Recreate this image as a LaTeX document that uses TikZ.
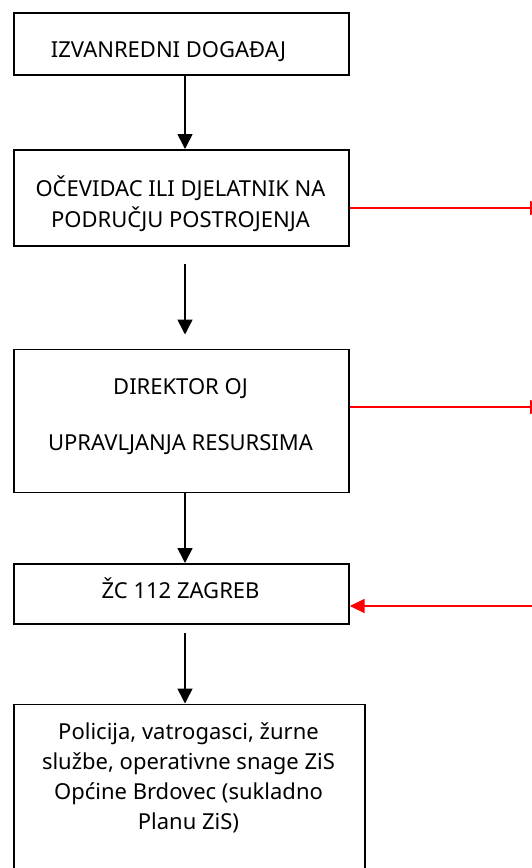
\documentclass[tikz,border=0pt]{standalone}
\usepackage{fontspec}
\setmainfont{Noto Sans}
\usetikzlibrary{arrows.meta,calc}
\begin{document}
\begin{tikzpicture}[x=1pt,y=-1pt,
  box/.style={draw, line width=1.7pt, inner sep=0pt, anchor=north west, rectangle},
  txt/.style={anchor=base, inner sep=0pt, font=\fontsize{22pt}{26pt}\selectfont},
  flow/.style={line width=1.6pt, -{Triangle[width=15pt,length=15pt]}},
  redflow/.style={color=red, line width=1.8pt, -{Triangle[width=14pt,length=15pt]}}]
\useasboundingbox (0,0) rectangle (532,868);
\clip (0,0) rectangle (532,868);
% boxes
\node[box, minimum width=335pt, minimum height=62pt] (b1) at (13,12) {};
\node[box, minimum width=335pt, minimum height=96pt] (b2) at (13,149) {};
\node[box, minimum width=335pt, minimum height=143pt] (b3) at (13,348.5) {};
\node[box, minimum width=335pt, minimum height=60pt] (b4) at (13,563) {};
\node[box, minimum width=351pt, minimum height=200pt] (b5) at (13,703.5) {};
% texts
\node[txt, anchor=base west] (t1) at (50.7,57.5) {IZVANREDNI DOGAĐAJ};
\node[txt] (t2a) at (180.5,196.5) {OČEVIDAC ILI DJELATNIK NA};
\node[txt] (t2b) at (180.5,227.5) {PODRUČJU POSTROJENJA};
\node[txt] (t3a) at (180.5,394.5) {DIREKTOR OJ};
\node[txt] (t3b) at (180.5,450) {UPRAVLJANJA RESURSIMA};
\node[txt] (t4) at (180.5,598) {ŽC 112 ZAGREB};
\node[txt] (t5a) at (188.5,739) {Policija, vatrogasci, žurne};
\node[txt] (t5b) at (188.5,769) {službe, operativne snage ZiS};
\node[txt] (t5c) at (188.5,799) {Općine Brdovec (sukladno};
\node[txt] (t5d) at (188.5,829) {Planu ZiS)};
% black flow arrows
\coordinate (ax) at (185,0);
\draw[flow] (b1.south -| ax) -- (b2.north -| ax);
\draw[flow] ($(b2.south -| ax)+(0,17.5)$) -- ($(b3.north -| ax)+(0,-14)$);
\draw[flow] (b3.south -| ax) -- (b4.north -| ax);
\draw[flow] ($(b4.south -| ax)+(0,8)$) -- (b5.north -| ax);
% red arrows to/from outside
\coordinate (e1) at (545,208);
\coordinate (e2) at (545,407);
\coordinate (e3) at (545,606);
\draw[redflow] (b2.east |- e1) -- (e1);
\draw[redflow] (b3.east |- e2) -- (e2);
\draw[redflow] (e3) -- (b4.east |- e3);
\end{tikzpicture}
\end{document}
